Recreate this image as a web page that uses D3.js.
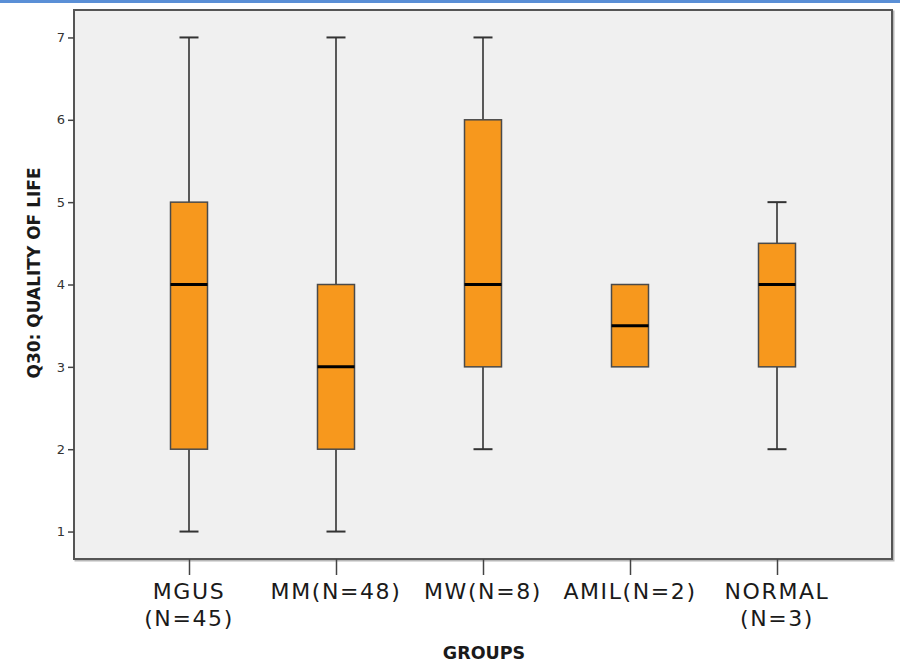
<!DOCTYPE html>
<html>
<head>
<meta charset="utf-8">
<script src="https://cdn.jsdelivr.net/npm/d3@7"></script>
<style>
  html, body { margin: 0; padding: 0; background: #ffffff; }
  svg { display: block; }
</style>
</head>
<body>
<svg id="chart" width="900" height="662"></svg>
<script>
// Q30 quality-of-life scores by diagnostic group (five-number summaries)
const groups = ["MGUS", "MM", "MW", "AMIL", "NORMAL"];
const groupLabels = [["MGUS", "(N=45)"], ["MM(N=48)"], ["MW(N=8)"], ["AMIL(N=2)"], ["NORMAL", "(N=3)"]];
const minValues    = [1, 1, 2, 3, 2];
const q1Values     = [2, 2, 3, 3, 3];
const medianValues = [4, 3, 4, 3.5, 4];
const q3Values     = [5, 4, 6, 4, 4.5];
const maxValues    = [7, 7, 7, 4, 5];
const yTicks = [1, 2, 3, 4, 5, 6, 7];

const svg = d3.select("#chart");
const W = 900, H = 662;
const plot = { left: 74, right: 892, top: 10, bottom: 559 };

// thin blue rule across the top edge
svg.append("rect").attr("x", 0).attr("y", 0).attr("width", W).attr("height", 3).attr("fill", "#5a8fd6");

const x = d3.scalePoint().domain(groups).range([189, 777]);
const y = d3.scaleLinear().domain([2 / 3, 22 / 3]).range([plot.bottom, plot.top]);

// plot background with a soft shadow frame
svg.append("rect")
  .attr("x", plot.left + 1.5).attr("y", plot.top + 1.5)
  .attr("width", plot.right - plot.left).attr("height", plot.bottom - plot.top)
  .attr("fill", "none").attr("stroke", "#b8b8b8").attr("stroke-width", 2);
svg.append("rect")
  .attr("x", plot.left).attr("y", plot.top)
  .attr("width", plot.right - plot.left).attr("height", plot.bottom - plot.top)
  .attr("fill", "#f0f0f0").attr("stroke", "#555555").attr("stroke-width", 2);

// y axis
const yAxis = d3.axisLeft(y).tickValues(yTicks).tickSize(6).tickPadding(3).tickFormat(d3.format("d"));
const gy = svg.append("g").attr("transform", `translate(${plot.left},0)`).call(yAxis);
gy.select(".domain").remove();
gy.selectAll(".tick line").attr("stroke", "#444").attr("stroke-width", 1.5);
gy.selectAll(".tick text").attr("fill", "#333").style("font-family", "DejaVu Sans, sans-serif").style("font-size", "13px");

// x axis
const xAxis = d3.axisBottom(x).tickSize(16).tickFormat("");
const gx = svg.append("g").attr("transform", `translate(0,${plot.bottom})`).call(xAxis);
gx.select(".domain").remove();
gx.selectAll(".tick line").attr("stroke", "#444").attr("stroke-width", 1.5);

groups.forEach((g, i) => {
  const t = svg.append("text")
    .attr("x", x(g)).attr("y", 599)
    .attr("text-anchor", "middle")
    .attr("fill", "#1a1a1a")
    .style("font-family", "DejaVu Sans, sans-serif")
    .style("font-size", "22px")
    .style("letter-spacing", "1.6px");
  groupLabels[i].forEach((line, j) => {
    t.append("tspan").attr("x", x(g)).attr("dy", j === 0 ? 0 : 27).text(line);
  });
});

// axis titles
svg.append("text")
  .attr("x", 484).attr("y", 659)
  .attr("text-anchor", "middle")
  .attr("fill", "#1a1a1a")
  .style("font-family", "DejaVu Sans, sans-serif").style("font-weight", "bold").style("font-size", "17.5px")
  .text("GROUPS");
svg.append("text")
  .attr("transform", "translate(40,273) rotate(-90)")
  .attr("text-anchor", "middle")
  .attr("fill", "#1a1a1a")
  .style("font-family", "DejaVu Sans, sans-serif").style("font-weight", "bold").style("font-size", "17px")
  .text("Q30: QUALITY OF LIFE");

// boxes
const boxW = 37, capW = 19;
const data = groups.map((g, i) => ({
  g, min: minValues[i], q1: q1Values[i], med: medianValues[i], q3: q3Values[i], max: maxValues[i]
}));
const gb = svg.append("g");
data.forEach(d => {
  const cx = x(d.g);
  const whisker = (a, b) => {
    if (a === b) return;
    gb.append("line").attr("x1", cx).attr("x2", cx).attr("y1", y(a)).attr("y2", y(b))
      .attr("stroke", "#333").attr("stroke-width", 1.6);
    gb.append("line").attr("x1", cx - capW / 2).attr("x2", cx + capW / 2).attr("y1", y(b)).attr("y2", y(b))
      .attr("stroke", "#333").attr("stroke-width", 2);
  };
  whisker(d.q3, d.max);
  whisker(d.q1, d.min);
  gb.append("rect")
    .attr("x", cx - boxW / 2).attr("width", boxW)
    .attr("y", y(d.q3)).attr("height", y(d.q1) - y(d.q3))
    .attr("fill", "#f7981d").attr("stroke", "#4a4a4a").attr("stroke-width", 1.5);
  gb.append("line")
    .attr("x1", cx - boxW / 2).attr("x2", cx + boxW / 2)
    .attr("y1", y(d.med)).attr("y2", y(d.med))
    .attr("stroke", "#000").attr("stroke-width", 3);
});
</script>
</body>
</html>
